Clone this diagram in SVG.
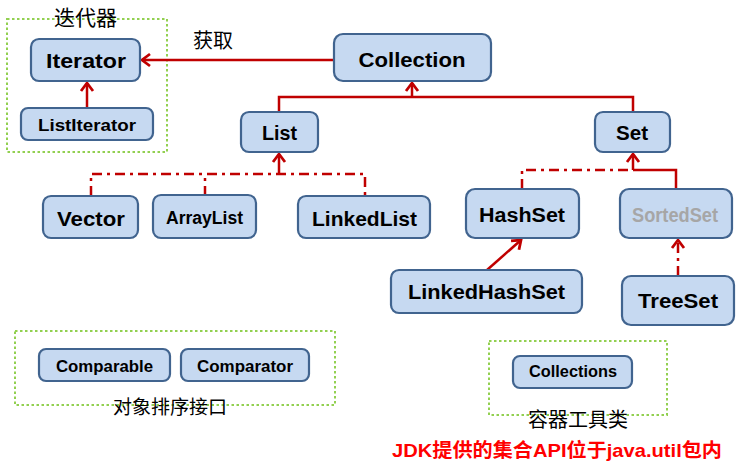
<svg xmlns="http://www.w3.org/2000/svg" width="740" height="466" viewBox="0 0 740 466">
<style>
.box{fill:#c6d9f1;stroke:#41648f;stroke-width:2.2}
.t{font-family:"Liberation Sans",Arial,sans-serif;font-weight:bold;fill:#000;text-anchor:middle}
.cn{font-family:"Noto Sans CJK SC",sans-serif;fill:#000;text-anchor:middle}
.grp{fill:none;stroke:#92d050;stroke-width:2;stroke-dasharray:2.5,2.5}
.ln{fill:none;stroke:#c00000;stroke-width:2.5}
.dd{fill:none;stroke:#c00000;stroke-width:2.5;stroke-dasharray:10,5,3,5}
</style>
<defs>
<marker id="ah" markerUnits="userSpaceOnUse" markerWidth="20" markerHeight="20" viewBox="-12 -10 16 20" refX="0" refY="0" orient="auto">
<path d="M-8,-6 L0,0 L-8,6" fill="none" stroke="#c00000" stroke-width="2.8"/>
</marker>
</defs>
<rect x="0" y="0" width="740" height="466" fill="#fff"/>
<g id="groups">
<rect class="grp" x="7" y="19" width="160" height="133"/>
<rect class="grp" x="15" y="331" width="320" height="74"/>
<rect class="grp" x="489" y="341" width="178" height="74"/>
</g>
<g id="connectors">
<path class="ln" d="M334,60 H142" marker-end="url(#ah)"/>
<path class="ln" d="M87,108 V83" marker-end="url(#ah)"/>
<path class="ln" d="M279,112 V97 H633 V112"/>
<path class="ln" d="M412,97 V83" marker-end="url(#ah)"/>
<path class="dd" d="M91,196 V174 H365 V196"/>
<path class="dd" d="M205,196 V174"/>
<path class="ln" d="M279,174 V154" marker-end="url(#ah)"/>
<path class="dd" d="M522,189 V170 H633"/>
<path class="ln" d="M633,170 H676 V189"/>
<path class="ln" d="M633,170 V154" marker-end="url(#ah)"/>
<path class="ln" d="M487,270 L521,240" marker-end="url(#ah)"/>
<path class="dd" d="M678,276 V240" marker-end="url(#ah)"/>
</g>
<g id="n-iterator"><rect class="box" x="31" y="39" width="109" height="42" rx="8"/><text class="t" x="86" y="68" font-size="20" textLength="80" lengthAdjust="spacingAndGlyphs">Iterator</text></g>
<g id="n-listiterator"><rect class="box" x="21" y="108" width="132" height="32" rx="7"/><text class="t" x="87" y="131" font-size="17" textLength="98" lengthAdjust="spacingAndGlyphs">ListIterator</text></g>
<g id="n-collection"><rect class="box" x="334" y="34" width="157" height="47" rx="9"/><text class="t" x="412" y="67" font-size="20" textLength="107" lengthAdjust="spacingAndGlyphs">Collection</text></g>
<g id="n-list"><rect class="box" x="241" y="112" width="77" height="40" rx="8"/><text class="t" x="279.5" y="140" font-size="20" textLength="35" lengthAdjust="spacingAndGlyphs">List</text></g>
<g id="n-set"><rect class="box" x="595" y="112" width="75" height="40" rx="8"/><text class="t" x="632" y="140" font-size="20" textLength="32" lengthAdjust="spacingAndGlyphs">Set</text></g>
<g id="n-vector"><rect class="box" x="43" y="196" width="95" height="42" rx="8"/><text class="t" x="91" y="226" font-size="21" textLength="68" lengthAdjust="spacingAndGlyphs">Vector</text></g>
<g id="n-arraylist"><rect class="box" x="153" y="195" width="103" height="43" rx="8"/><text class="t" x="204.5" y="224" font-size="18" textLength="77" lengthAdjust="spacingAndGlyphs">ArrayList</text></g>
<g id="n-linkedlist"><rect class="box" x="298" y="196" width="132" height="42" rx="8"/><text class="t" x="364.5" y="226" font-size="21" textLength="105" lengthAdjust="spacingAndGlyphs">LinkedList</text></g>
<g id="n-hashset"><rect class="box" x="466" y="189" width="113" height="49" rx="9"/><text class="t" x="522" y="222" font-size="20" textLength="86" lengthAdjust="spacingAndGlyphs">HashSet</text></g>
<g id="n-sortedset"><rect class="box" x="620" y="189" width="112" height="49" rx="9"/><text class="t" x="675" y="222" font-size="20" textLength="86" lengthAdjust="spacingAndGlyphs" style="fill:#a6a6a6">SortedSet</text></g>
<g id="n-linkedhashset"><rect class="box" x="391" y="270" width="191" height="43" rx="8"/><text class="t" x="486.5" y="299" font-size="20" textLength="157" lengthAdjust="spacingAndGlyphs">LinkedHashSet</text></g>
<g id="n-treeset"><rect class="box" x="622" y="276" width="112" height="49" rx="9"/><text class="t" x="678" y="308" font-size="20" textLength="80" lengthAdjust="spacingAndGlyphs">TreeSet</text></g>
<g id="n-comparable"><rect class="box" x="39" y="349" width="131" height="32" rx="7"/><text class="t" x="104.5" y="372" font-size="17" textLength="97" lengthAdjust="spacingAndGlyphs">Comparable</text></g>
<g id="n-comparator"><rect class="box" x="181" y="349" width="128" height="32" rx="7"/><text class="t" x="245" y="372" font-size="17" textLength="96" lengthAdjust="spacingAndGlyphs">Comparator</text></g>
<g id="n-collections"><rect class="box" x="513" y="356" width="119" height="32" rx="7"/><text class="t" x="573" y="377" font-size="17" textLength="88" lengthAdjust="spacingAndGlyphs">Collections</text></g>
<g id="labels">
<text class="cn" x="85.5" y="25" font-size="21">迭代器</text>
<text class="cn" x="213" y="48" font-size="20">获取</text>
<text class="cn" x="170" y="414" font-size="19">对象排序接口</text>
<text class="cn" x="578" y="427" font-size="20">容器工具类</text>
<text x="557" y="457" font-family="Liberation Sans,'Noto Sans CJK SC',sans-serif" font-weight="bold" font-size="19" fill="#ff0000" text-anchor="middle" textLength="330" lengthAdjust="spacingAndGlyphs">JDK提供的集合API位于java.util包内</text>
</g>
</svg>
